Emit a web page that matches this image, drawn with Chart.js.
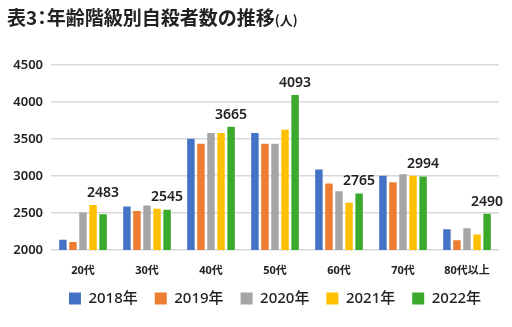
<!DOCTYPE html>
<html><head><meta charset="utf-8">
<script src="https://cdn.jsdelivr.net/npm/chart.js@4"></script>
<style>
html,body{margin:0;padding:0;background:#fff;}
#wrap{position:relative;width:512px;height:327px;}
#title{position:absolute;left:7px;top:3px;font-family:"Noto Sans CJK JP","Noto Sans",sans-serif;font-weight:bold;font-size:19px;color:#222;white-space:nowrap;line-height:28px;}
#title .c{font-feature-settings:'halt';}
#title small{font-size:13px;}
canvas{position:absolute;left:0;top:0;}
</style></head>
<body><div id="wrap"><canvas id="c" width="512" height="327"></canvas>
<div id="title">表3<span class="c">：</span>年齢階級別自殺者数の推移<small>(人)</small></div></div>
<script>
const categories = ["20代","30代","40代","50代","60代","70代","80代以上"];
const seriesNames = ["2018年","2019年","2020年","2021年","2022年"];
const y2018 = [2140, 2588, 3504, 3580, 3087, 3005, 2281];
const y2019 = [2108, 2526, 3436, 3436, 2897, 2915, 2131];
const y2020 = [2507, 2602, 3580, 3436, 2793, 3023, 2295];
const y2021 = [2607, 2557, 3580, 3626, 2639, 3005, 2208];
const y2022 = [2483, 2545, 3665, 4093, 2765, 2994, 2490];
const yTicks = [2000, 2500, 3000, 3500, 4000, 4500];

const colors = ["#4472C4","#ED7D31","#A5A5A5","#FFC000","#3BAA2C"];
const FONT = '"Noto Sans","Noto Sans CJK JP",sans-serif';
const allSeries = [y2018,y2019,y2020,y2021,y2022];

const labelPlugin = {
  id:'lastLabels',
  afterLayout(chart){
    const lg = chart.legend;
    if (lg) { lg.top -= 5; lg.bottom -= 5; }
  },
  afterDatasetsDraw(chart){
    const ctx = chart.ctx;
    const m4 = chart.getDatasetMeta(4), m3 = chart.getDatasetMeta(3);
    ctx.save();
    ctx.font = '600 14px ' + FONT;
    ctx.fillStyle = '#222';
    ctx.textAlign = 'center';
    ctx.textBaseline = 'bottom';
    m4.data.forEach((bar,i)=>{
      const top = Math.min(bar.y, m3.data[i].y);
      ctx.fillText(String(y2022[i]), bar.x, top - 5);
    });
    ctx.restore();
  }
};

new Chart(document.getElementById('c'), {
  type:'bar',
  data:{
    labels: categories,
    datasets: allSeries.map((d,i)=>({
      label: seriesNames[i], data: d, backgroundColor: colors[i],
      categoryPercentage: 0.785, barPercentage: 0.74
    }))
  },
  options:{
    responsive:false, animation:false,
    layout:{padding:{left:0,right:13,top:65,bottom:6}},
    plugins:{
      title:{display:false}, tooltip:{enabled:false},
      legend:{
        position:'bottom', fullSize:false,
        labels:{boxWidth:12, boxHeight:12, padding:17, color:'#222', font:{family:FONT, size:15, weight:'500'}}
      }
    },
    scales:{
      x:{
        grid:{display:false, drawTicks:false}, border:{display:false},
        ticks:{padding:14, color:'#222', font:{family:FONT, size:11, weight:'bold'}},
        afterFit(s){ s.height = 29; }
      },
      y:{
        min: yTicks[0], max: yTicks[yTicks.length-1],
        afterBuildTicks(s){ s.ticks = yTicks.map(v=>({value:v})); },
        grid:{color:'#d9d9d9', lineWidth:1.5, drawTicks:false}, border:{display:false},
        ticks:{padding:8, color:'#222', font:{family:FONT, size:13, weight:'600'}, callback:(v)=>String(v)},
        afterFit(s){ s.width = 51; }
      }
    }
  },
  plugins:[labelPlugin]
});
</script></body></html>
